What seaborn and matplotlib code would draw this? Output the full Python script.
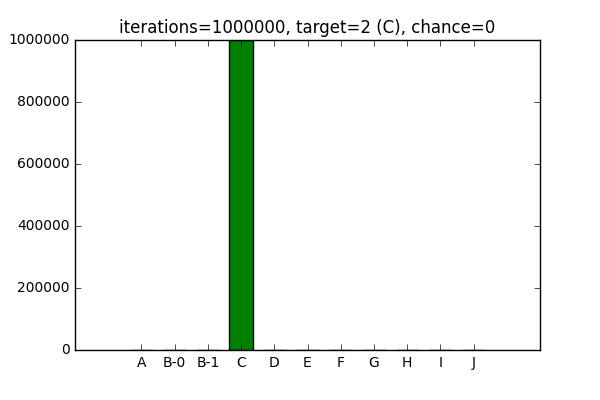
import matplotlib
matplotlib.use("Agg")
import matplotlib.pyplot as plt
import seaborn as sns
import pandas as pd

categories = ["A", "B-0", "B-1", "C", "D", "E", "F", "G", "H", "I", "J"]
counts = [0, 0, 0, 1000000, 0, 0, 0, 0, 0, 0, 0]
yticks = [0, 200000, 400000, 600000, 800000, 1000000]
title = "iterations=1000000, target=2 (C), chance=0"

plt.style.use("classic")
plt.rcParams["font.family"] = ["DejaVu Sans"]
plt.rcParams["font.size"] = 10

df = pd.DataFrame({"cat": categories, "count": counts})

fig = plt.figure(figsize=(6, 4), dpi=100, facecolor="white")
ax = fig.add_subplot(111)
fig.subplots_adjust(left=0.125, right=0.9, bottom=0.125, top=0.9)

sns.barplot(data=df, x="cat", y="count", color="green", saturation=1,
            edgecolor="black", linewidth=1, width=0.7, ax=ax)

ax.set_xlim(-2, 12)
ax.set_ylim(0, 1000000)
ax.set_yticks(yticks)
ax.set_yticklabels([str(v) for v in yticks])
ax.set_xlabel("")
ax.set_ylabel("")
ax.set_title(title, fontsize=12)
ax.tick_params(direction="in", length=4, labelsize=10)

fig.savefig("out.png", dpi=100, facecolor="white")
